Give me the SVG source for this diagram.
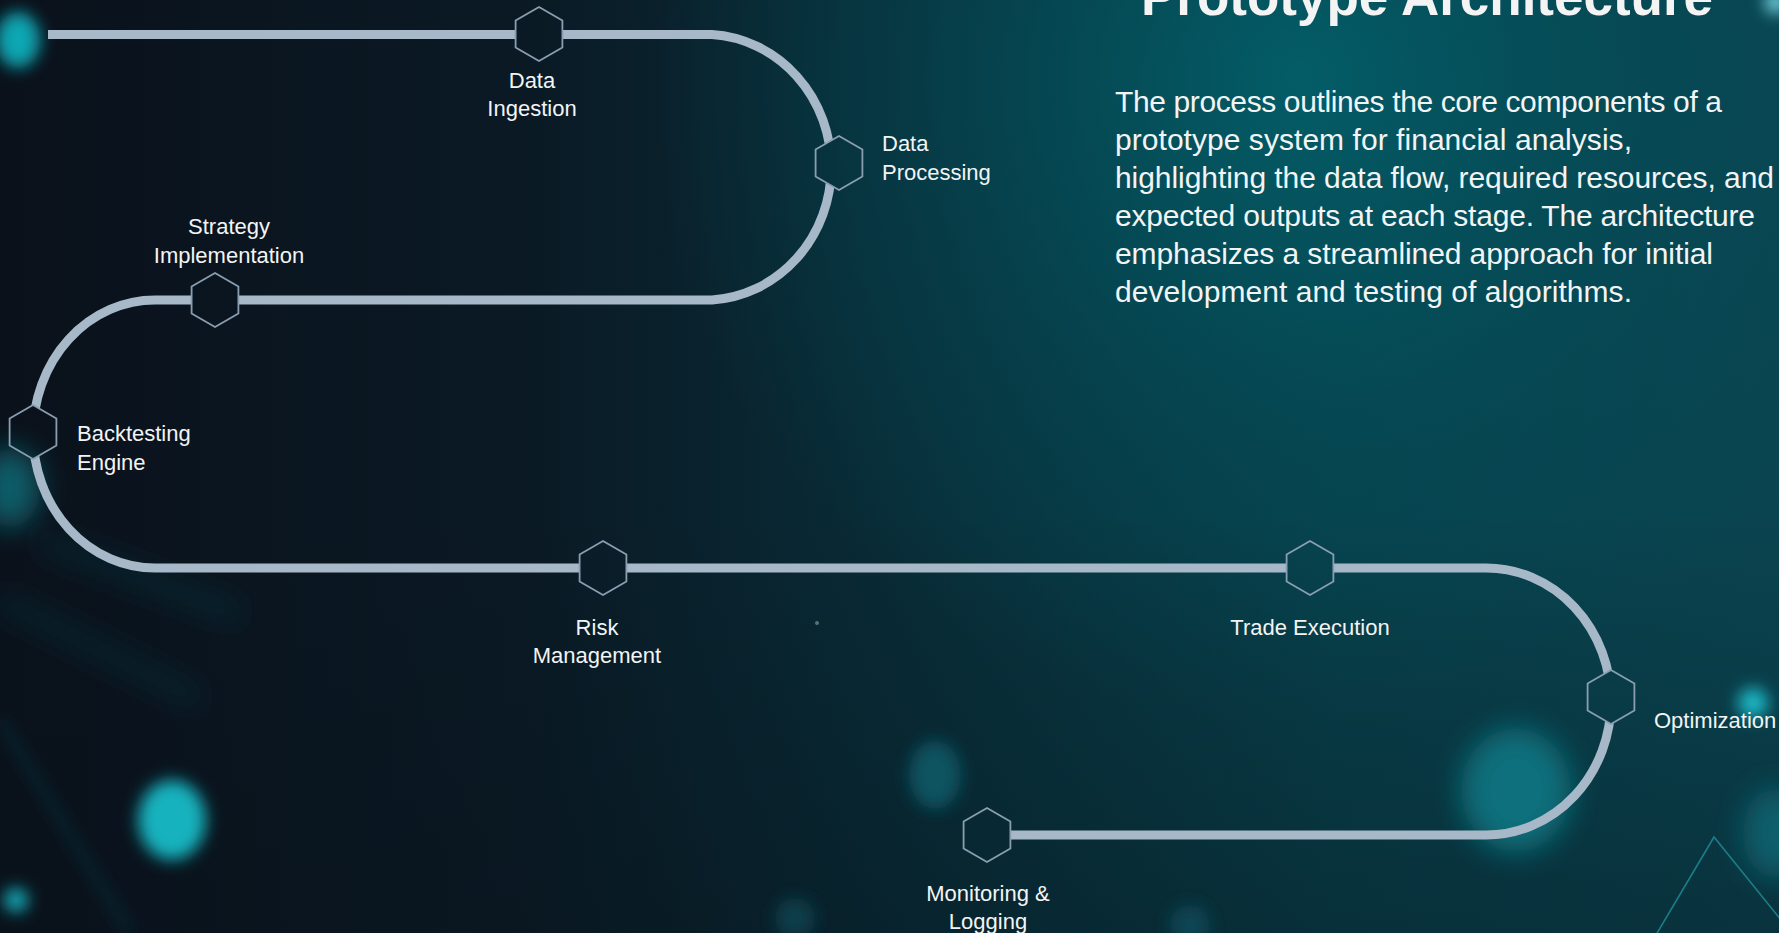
<svg xmlns="http://www.w3.org/2000/svg" xmlns:xlink="http://www.w3.org/1999/xlink" width="1779" height="933" viewBox="0 0 1779 933">
  <style>
    .lbl { font-family: "Liberation Sans", Arial, sans-serif; font-size: 22px; fill: #f2f4f5; }
    .mid { text-anchor: middle; }
    .para { font-family: "Liberation Sans", Arial, sans-serif; font-size: 30px; fill: #f2f4f5; }
    .title { font-family: "Liberation Sans", Arial, sans-serif; font-size: 53px; font-weight: bold; fill: #f4f4f4; }
    .hexnode { fill: none; stroke: #8a9eb1; stroke-width: 1.8; }
    .conn { fill: none; stroke: #a7b8c8; stroke-width: 9; }
  </style>
  <defs>
    <linearGradient id="bg" x1="0" y1="0" x2="1" y2="0">
      <stop offset="0" stop-color="#0a111b"/>
      <stop offset="0.3" stop-color="#0a1a25"/>
      <stop offset="0.55" stop-color="#08303b"/>
      <stop offset="0.75" stop-color="#07404b"/>
      <stop offset="1" stop-color="#0a4450"/>
    </linearGradient>
    <radialGradient id="glowTR" cx="1300" cy="80" r="650" gradientUnits="userSpaceOnUse">
      <stop offset="0" stop-color="#03606a" stop-opacity="0.9"/>
      <stop offset="0.6" stop-color="#034f5a" stop-opacity="0.4"/>
      <stop offset="1" stop-color="#034f5a" stop-opacity="0"/>
    </radialGradient>
    <linearGradient id="bottomShade" x1="0" y1="0" x2="0" y2="1">
      <stop offset="0.55" stop-color="#07121a" stop-opacity="0"/>
      <stop offset="1" stop-color="#07121a" stop-opacity="0.35"/>
    </linearGradient>
    <filter id="blur8" x="-100%" y="-100%" width="300%" height="300%">
      <feGaussianBlur stdDeviation="8"/>
    </filter>
    <filter id="blur14" x="-100%" y="-100%" width="300%" height="300%">
      <feGaussianBlur stdDeviation="14"/>
    </filter>
    <filter id="blur22" x="-100%" y="-100%" width="300%" height="300%">
      <feGaussianBlur stdDeviation="22"/>
    </filter>
    <polygon id="hex" points="0,-27 23.4,-13.5 23.4,13.5 0,27 -23.4,13.5 -23.4,-13.5"/>
    <mask id="hexCut" maskUnits="userSpaceOnUse" x="0" y="0" width="1779" height="933">
      <rect x="0" y="0" width="1779" height="933" fill="white"/>
      <g fill="black">
        <use xlink:href="#hex" x="539" y="34"/>
        <use xlink:href="#hex" x="839" y="163"/>
        <use xlink:href="#hex" x="215" y="300"/>
        <use xlink:href="#hex" x="33" y="432"/>
        <use xlink:href="#hex" x="603" y="568"/>
        <use xlink:href="#hex" x="1310" y="568"/>
        <use xlink:href="#hex" x="1611" y="697"/>
        <use xlink:href="#hex" x="987" y="835"/>
      </g>
    </mask>
  </defs>

  <!-- background -->
  <g id="background">
    <rect x="0" y="0" width="1779" height="933" fill="url(#bg)"/>
    <rect x="0" y="0" width="1779" height="933" fill="url(#glowTR)"/>
    <rect x="0" y="0" width="1779" height="933" fill="url(#bottomShade)"/>
    <ellipse cx="18" cy="40" rx="22" ry="28" fill="#10a6b2" filter="url(#blur8)"/>
    <ellipse cx="10" cy="488" rx="30" ry="40" fill="#0b5d69" filter="url(#blur14)"/>
    <path d="M40,540 L240,615" stroke="#0d4b57" stroke-width="18" stroke-opacity="0.35" filter="url(#blur14)"/>
    <path d="M0,600 L200,700" stroke="#0d4b57" stroke-width="18" stroke-opacity="0.3" filter="url(#blur14)"/>
    <path d="M0,720 L130,933" stroke="#0e4f5a" stroke-width="5" stroke-opacity="0.6" filter="url(#blur8)"/>
    <ellipse cx="172" cy="820" rx="34" ry="40" fill="#12b2be" filter="url(#blur8)"/>
    <circle cx="16" cy="900" r="12" fill="#13aebb" filter="url(#blur8)"/>
    <ellipse cx="935" cy="775" rx="26" ry="34" fill="#0b5361" filter="url(#blur8)"/>
    <ellipse cx="1516" cy="790" rx="55" ry="62" fill="#07707b" filter="url(#blur14)"/>
    <circle cx="1753" cy="703" r="15" fill="#1ab9c8" filter="url(#blur8)"/>
    <ellipse cx="1775" cy="833" rx="32" ry="45" fill="#0b5f6c" filter="url(#blur14)"/>
    <circle cx="1776" cy="2" r="11" fill="#7fdfee" filter="url(#blur8)"/>
    <circle cx="795" cy="918" r="20" fill="#0b3e4a" filter="url(#blur8)"/>
    <circle cx="1190" cy="925" r="20" fill="#0b4552" filter="url(#blur8)"/>
    <circle cx="817" cy="623" r="2" fill="#5b6f78"/>
    <polyline points="1653,940 1714,837 1785,925" fill="none" stroke="#1b7d88" stroke-width="1.6"/>
  </g>

  <!-- connectors -->
  <g id="connectors">
    <path class="conn" mask="url(#hexCut)" d="M48,34.5 H712 A127,133 0 0 1 712,300 H155 A122,134 0 0 0 155,568 H1486 A125,133.5 0 0 1 1486,835 H987"/>
  </g>

  <!-- nodes -->
  <g id="node-data-ingestion">
    <use xlink:href="#hex" class="hexnode" x="539" y="34"/>
    <text class="lbl mid" x="532" y="87.5">Data</text>
    <text class="lbl mid" x="532" y="116">Ingestion</text>
  </g>
  <g id="node-data-processing">
    <use xlink:href="#hex" class="hexnode" x="839" y="163"/>
    <text class="lbl" x="882" y="151">Data</text>
    <text class="lbl" x="882" y="180">Processing</text>
  </g>
  <g id="node-strategy-implementation">
    <use xlink:href="#hex" class="hexnode" x="215" y="300"/>
    <text class="lbl mid" x="229" y="234">Strategy</text>
    <text class="lbl mid" x="229" y="263">Implementation</text>
  </g>
  <g id="node-backtesting-engine">
    <use xlink:href="#hex" class="hexnode" x="33" y="432"/>
    <text class="lbl" x="77" y="441">Backtesting</text>
    <text class="lbl" x="77" y="469.5">Engine</text>
  </g>
  <g id="node-risk-management">
    <use xlink:href="#hex" class="hexnode" x="603" y="568"/>
    <text class="lbl mid" x="597" y="635">Risk</text>
    <text class="lbl mid" x="597" y="663">Management</text>
  </g>
  <g id="node-trade-execution">
    <use xlink:href="#hex" class="hexnode" x="1310" y="568"/>
    <text class="lbl mid" x="1310" y="635">Trade Execution</text>
  </g>
  <g id="node-optimization">
    <use xlink:href="#hex" class="hexnode" x="1611" y="697"/>
    <text class="lbl" x="1654" y="728">Optimization</text>
  </g>
  <g id="node-monitoring-logging">
    <use xlink:href="#hex" class="hexnode" x="987" y="835"/>
    <text class="lbl mid" x="988" y="901">Monitoring &amp;</text>
    <text class="lbl mid" x="988" y="929">Logging</text>
  </g>

  <!-- title and description -->
  <g id="description">
    <text class="title" x="1141" y="15" textLength="572">Prototype Architecture</text>
    <text class="para" x="1115" y="111.5" textLength="607">The process outlines the core components of a</text>
    <text class="para" x="1115" y="149.5" textLength="517">prototype system for financial analysis,</text>
    <text class="para" x="1115" y="187.5" textLength="659">highlighting the data flow, required resources, and</text>
    <text class="para" x="1115" y="225.5" textLength="640">expected outputs at each stage. The architecture</text>
    <text class="para" x="1115" y="263.5" textLength="598">emphasizes a streamlined approach for initial</text>
    <text class="para" x="1115" y="301.5" textLength="517">development and testing of algorithms.</text>
  </g>
</svg>
